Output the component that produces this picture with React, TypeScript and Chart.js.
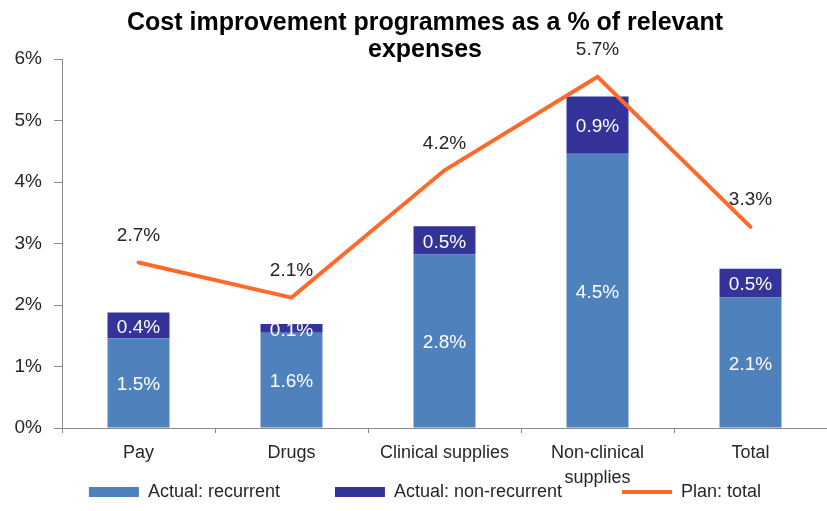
import React, { useEffect, useRef } from 'react';
import { Chart, registerables } from 'chart.js';

Chart.register(...registerables);

const FONT = '"Liberation Sans", Arial, sans-serif';

const titleLines = ['Cost improvement programmes as a % of relevant', 'expenses'];
const categories: (string | string[])[] = ['Pay', 'Drugs', 'Clinical supplies', ['Non-clinical', 'supplies'], 'Total'];
const recurrent = [1.46, 1.55, 2.82, 4.46, 2.12];
const nonRecurrent = [0.42, 0.14, 0.46, 0.93, 0.47];
const planTotal = [2.69, 2.12, 4.19, 5.71, 3.27];
const yTicks = [0, 1, 2, 3, 4, 5, 6];
const seriesNames = ['Actual: recurrent', 'Actual: non-recurrent', 'Plan: total'];
const legendGaps = ['         ', '          ', ''];

const valueLabels = {
  id: 'valueLabels',
  afterDatasetsDraw(chart: any) {
    const ctx = chart.ctx;
    ctx.save();
    ctx.font = `19px ${FONT}`;
    ctx.textAlign = 'center';
    ctx.textBaseline = 'middle';
    chart.data.datasets.forEach((ds: any, i: number) => {
      const meta = chart.getDatasetMeta(i);
      meta.data.forEach((el: any, j: number) => {
        const v = ds.data[j] as number;
        const txt = v.toFixed(1) + '%';
        if (meta.type === 'bar') {
          const p = el.getProps(['x', 'y', 'base'], true);
          ctx.fillStyle = '#ffffff';
          ctx.fillText(txt, p.x, (p.y + p.base) / 2 + 2);
        } else {
          ctx.fillStyle = '#262626';
          ctx.fillText(txt, el.x, el.y - 27);
        }
      });
    });
    ctx.restore();
  },
};

export default function App() {
  const ref = useRef<HTMLCanvasElement | null>(null);
  useEffect(() => {
    if (!ref.current) return;
    const chart = new Chart(ref.current, {
      type: 'bar',
      data: {
        labels: categories as any,
        datasets: [
          {
            type: 'bar',
            label: seriesNames[0],
            data: recurrent,
            backgroundColor: '#4F81BD',
            borderWidth: 0,
            stack: 'actual',
            order: 1,
            pointStyle: 'rect',
            categoryPercentage: 1,
            barPercentage: 0.405,
          } as any,
          {
            type: 'bar',
            label: seriesNames[1],
            data: nonRecurrent,
            backgroundColor: '#333399',
            borderWidth: 0,
            stack: 'actual',
            order: 1,
            pointStyle: 'rect',
            categoryPercentage: 1,
            barPercentage: 0.405,
          } as any,
          {
            type: 'line',
            label: seriesNames[2],
            data: planTotal,
            borderColor: '#FF6A2B',
            backgroundColor: '#FF6A2B',
            borderWidth: 4,
            pointRadius: 0,
            pointStyle: 'line',
            borderCapStyle: 'round',
            borderJoinStyle: 'miter',
            tension: 0,
            stack: 'plan',
            order: 0,
          } as any,
        ],
      },
      options: {
        animation: false,
        responsive: true,
        maintainAspectRatio: false,
        layout: { padding: { left: 23, right: 0, top: 0, bottom: 0 } },
        plugins: {
          title: {
            display: true,
            text: titleLines,
            color: '#000000',
            font: { family: FONT, size: 25, weight: 'bold', lineHeight: '27px' },
            padding: { top: 10, bottom: -5 },
          },
          legend: {
            display: true,
            position: 'bottom',
            labels: {
              usePointStyle: true,
              pointStyleWidth: 50,
              boxHeight: 10,
              color: '#262626',
              font: { family: FONT, size: 18 },
              padding: 10,
              generateLabels: (chart: any) => {
                const items = (Chart.defaults as any).plugins.legend.labels.generateLabels(chart);
                return items.map((it: any) => ({ ...it, text: it.text + legendGaps[it.datasetIndex] }));
              },
              sort: (a: any, b: any) => a.datasetIndex - b.datasetIndex,
            },
          },
          tooltip: { enabled: false },
        },
        scales: {
          x: {
            stacked: true,
            offset: true,
            afterFit: (scale: any) => {
              scale.height = 45;
              scale._computeLabelArea = () => undefined;
            },
            grid: {
              display: true,
              drawOnChartArea: false,
              drawTicks: true,
              tickLength: 5,
              offset: true,
              color: '#898989',
            },
            border: { display: true, color: '#898989', width: 1 },
            ticks: {
              color: '#262626',
              font: { family: FONT, size: 18, lineHeight: '25px' },
              padding: 8,
              maxRotation: 0,
              autoSkip: false,
            },
          },
          y: {
            stacked: true,
            min: 0,
            max: 6,
            afterBuildTicks: (axis: any) => {
              axis.ticks = yTicks.map((v) => ({ value: v }));
            },
            afterFit: (scale: any) => {
              scale.width = 39;
              scale._computeLabelArea = () => undefined;
            },
            grid: {
              display: true,
              drawOnChartArea: false,
              drawTicks: true,
              tickLength: 8,
              color: '#898989',
            },
            border: { display: true, color: '#898989', width: 1 },
            ticks: {
              color: '#262626',
              font: { family: FONT, size: 19 },
              padding: 12,
              callback: (v: any) => v + '%',
            },
          },
        },
      } as any,
      plugins: [valueLabels],
    });
    return () => chart.destroy();
  }, []);

  return (
    <div style={{ position: 'fixed', left: 0, top: 0, width: 827, height: 511, background: '#ffffff' }}>
      <canvas ref={ref} />
    </div>
  );
}
